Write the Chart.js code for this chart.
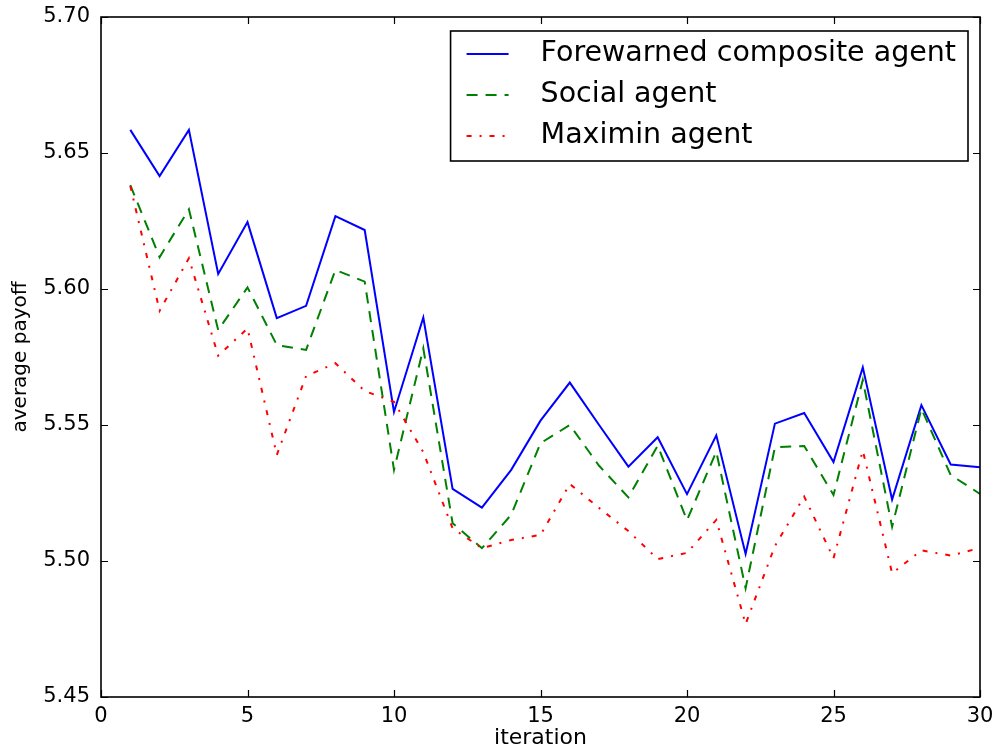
<!DOCTYPE html>
<html>
<head>
<meta charset="utf-8">
<title>average payoff per iteration</title>
<script src="https://cdn.jsdelivr.net/npm/chart.js@4.4.1/dist/chart.umd.min.js"></script>
<style>
  html, body { margin: 0; padding: 0; background: #fff; }
  #wrap { width: 996px; height: 751px; }
</style>
</head>
<body>
<div id="wrap"><canvas id="payoffChart" width="996" height="751"></canvas></div>
<script>
const iterations = [1, 2, 3, 4, 5, 6, 7, 8, 9, 10, 11, 12, 13, 14, 15,
  16, 17, 18, 19, 20, 21, 22, 23, 24, 25, 26, 27, 28, 29, 30];

const forewarned = [5.6585, 5.6415, 5.6585, 5.6055, 5.6246, 5.5893, 5.5938, 5.6268, 5.6217, 5.5548,
  5.5895, 5.5265, 5.5196, 5.5335, 5.5516, 5.5656, 5.5500, 5.5347, 5.5455, 5.5246,
  5.5462, 5.5026, 5.5505, 5.5544, 5.5364, 5.5712, 5.5226, 5.5573, 5.5355, 5.5345];

const social = [5.6382, 5.6117, 5.6293, 5.5849, 5.6006, 5.5794, 5.5776, 5.6070, 5.6027, 5.5335,
  5.5782, 5.5139, 5.5047, 5.5170, 5.5433, 5.5500, 5.5350, 5.5234, 5.5424, 5.5150,
  5.5402, 5.4900, 5.5418, 5.5423, 5.5243, 5.5665, 5.5126, 5.5560, 5.5316, 5.5247];

const maximin = [5.6379, 5.5920, 5.6113, 5.5755, 5.5855, 5.5390, 5.5680, 5.5727, 5.5625, 5.5585,
  5.5400, 5.5120, 5.5047, 5.5077, 5.5096, 5.5283, 5.5195, 5.5110, 5.5007, 5.5030,
  5.5151, 5.4768, 5.5055, 5.5237, 5.5010, 5.5406, 5.4955, 5.5039, 5.5020, 5.5048];

const seriesNames = ['Forewarned composite agent', 'Social agent', 'Maximin agent'];
const xTicks = [0, 5, 10, 15, 20, 25, 30];
const yTicks = [5.45, 5.50, 5.55, 5.60, 5.65, 5.70];

const FONT = "'DejaVu Sans', 'Liberation Sans', sans-serif";

function points(values) {
  return values.map((v, i) => ({ x: iterations[i], y: v }));
}

// frame with inward ticks on all four sides
const frameTicks = {
  id: 'frameTicks',
  afterDatasetsDraw(chart) {
    const { ctx, chartArea: a, scales: { x, y } } = chart;
    const len = 7;
    ctx.save();
    ctx.strokeStyle = '#000';
    ctx.lineWidth = 1.2;
    ctx.beginPath();
    xTicks.forEach(t => {
      const px = Math.round(x.getPixelForValue(t)) + 0.5;
      ctx.moveTo(px, a.bottom); ctx.lineTo(px, a.bottom - len);
      ctx.moveTo(px, a.top); ctx.lineTo(px, a.top + len);
    });
    yTicks.forEach(t => {
      const py = Math.round(y.getPixelForValue(t)) + 0.5;
      ctx.moveTo(a.left, py); ctx.lineTo(a.left + len, py);
      ctx.moveTo(a.right, py); ctx.lineTo(a.right - len, py);
    });
    ctx.stroke();
    ctx.lineWidth = 1.6;
    ctx.strokeRect(a.left, a.top, a.right - a.left, a.bottom - a.top);
    ctx.restore();
  }
};

// boxed legend in the upper right corner of the plot
const boxLegend = {
  id: 'boxLegend',
  afterDraw(chart) {
    const { ctx, chartArea: a } = chart;
    const fontSize = 28.5;
    const rowH = 41;
    const sampleW = 42;
    ctx.save();
    ctx.font = fontSize + 'px ' + FONT;
    const textW = Math.max(...seriesNames.map(n => ctx.measureText(n).width));
    const boxW = 16 + sampleW + 32 + textW + 12;
    const boxH = rowH * seriesNames.length + 7;
    const bx = a.right - 12 - boxW;
    const by = a.top + 14;
    ctx.fillStyle = '#fff';
    ctx.fillRect(bx, by, boxW, boxH);
    ctx.strokeStyle = '#000';
    ctx.lineWidth = 1.6;
    ctx.strokeRect(bx, by, boxW, boxH);
    chart.data.datasets.forEach((ds, i) => {
      const cy = by + 23 + i * rowH;
      ctx.beginPath();
      ctx.setLineDash(ds.borderDash || []);
      ctx.strokeStyle = ds.borderColor;
      ctx.lineWidth = ds.borderWidth;
      ctx.moveTo(bx + 16, cy);
      ctx.lineTo(bx + 16 + sampleW, cy);
      ctx.stroke();
      ctx.setLineDash([]);
      ctx.fillStyle = '#000';
      ctx.textBaseline = 'middle';
      ctx.fillText(ds.label, bx + 16 + sampleW + 32, cy);
    });
    ctx.restore();
  }
};

const config = {
  type: 'line',
  data: {
    datasets: [
      {
        label: seriesNames[0],
        data: points(forewarned),
        borderColor: '#0000ff',
        borderWidth: 2,
        order: 2
      },
      {
        label: seriesNames[1],
        data: points(social),
        borderColor: '#008000',
        borderWidth: 2,
        borderDash: [11, 8],
        order: 1
      },
      {
        label: seriesNames[2],
        data: points(maximin),
        borderColor: '#ff0000',
        borderWidth: 2,
        borderDash: [5, 8, 2, 8],
        order: 0
      }
    ]
  },
  options: {
    responsive: false,
    animation: false,
    events: [],
    layout: { padding: { left: 0, right: 16, top: 17, bottom: 0 } },
    elements: {
      point: { radius: 0 },
      line: { tension: 0, fill: false, borderCapStyle: 'butt' }
    },
    plugins: {
      legend: { display: false },
      tooltip: { enabled: false }
    },
    scales: {
      x: {
        type: 'linear',
        min: 0,
        max: 30,
        afterBuildTicks: s => { s.ticks = xTicks.map(v => ({ value: v })); },
        afterFit: s => { s.height = 54; s.paddingLeft = 0; s.paddingRight = 0; },
        grid: { display: false, drawTicks: false },
        border: { display: false },
        ticks: {
          padding: 7,
          color: '#000',
          font: { family: FONT, size: 21 },
          maxRotation: 0
        },
        title: {
          display: true,
          text: 'iteration',
          color: '#000',
          font: { family: FONT, size: 22 },
          padding: { top: 0, bottom: 0 }
        }
      },
      y: {
        min: 5.45,
        max: 5.70,
        afterBuildTicks: s => { s.ticks = yTicks.map(v => ({ value: v })); },
        afterFit: s => { s.width = 101; s.paddingTop = 0; s.paddingBottom = 0; },
        grid: { display: false, drawTicks: false },
        border: { display: false },
        ticks: {
          padding: 11,
          color: '#000',
          font: { family: FONT, size: 21 },
          callback: v => v.toFixed(2)
        },
        title: {
          display: true,
          text: 'average payoff',
          color: '#000',
          font: { family: FONT, size: 20 },
          padding: { top: 9, bottom: 0 }
        }
      }
    }
  },
  plugins: [frameTicks, boxLegend]
};

new Chart(document.getElementById('payoffChart'), config);
</script>
</body>
</html>
